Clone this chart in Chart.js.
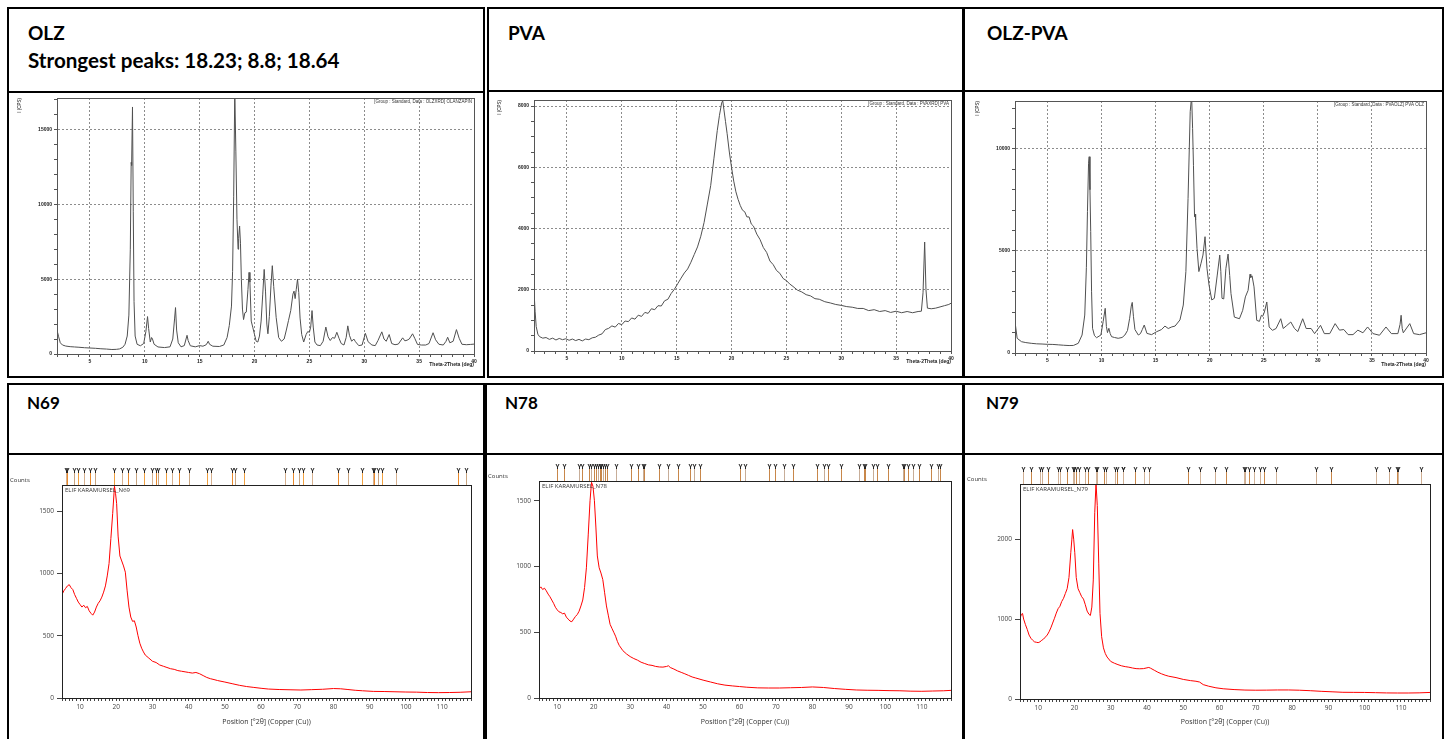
<!DOCTYPE html>
<html>
<head>
<meta charset="utf-8">
<script src="https://cdn.jsdelivr.net/npm/chart.js@4.4.1/dist/chart.umd.min.js"></script>
<style>
  body { margin: 0; background: #fff; width: 1451px; height: 739px; overflow: hidden; position: relative; font-family: Lato, "Open Sans", sans-serif; }
  .box { position: absolute; border: 2px solid #000; box-sizing: border-box; }
  .ttl { position: absolute; font-weight: bold; color: #000; white-space: nowrap; line-height: 1; }
  .big { font-size: 19px; }
  .sub { font-size: 20.6px; }
  .small { font-size: 17px; }
  canvas { position: absolute; }
</style>
</head>
<body>

<!-- top row frames -->
<div class="box" style="left:7px;top:7px;width:478px;height:86px"></div>
<div class="box" style="left:7px;top:91px;width:478px;height:287px"></div>
<div class="box" style="left:487px;top:7px;width:477px;height:85px"></div>
<div class="box" style="left:487px;top:90px;width:477px;height:288px"></div>
<div class="box" style="left:963px;top:7px;width:481px;height:85px"></div>
<div class="box" style="left:963px;top:90px;width:481px;height:288px"></div>

<!-- bottom row frames -->
<div class="box" style="left:7px;top:383px;width:478px;height:72px"></div>
<div class="box" style="left:7px;top:453px;width:478px;height:300px"></div>
<div class="box" style="left:485px;top:383px;width:479px;height:72px"></div>
<div class="box" style="left:485px;top:453px;width:479px;height:300px"></div>
<div class="box" style="left:963px;top:383px;width:481px;height:72px"></div>
<div class="box" style="left:963px;top:453px;width:481px;height:300px"></div>

<div class="ttl big" style="left:28px;top:23px">OLZ</div>
<div class="ttl sub" style="left:28px;top:50px">Strongest peaks: 18.23; 8.8; 18.64</div>
<div class="ttl big" style="left:508px;top:23px">PVA</div>
<div class="ttl big" style="left:987px;top:23px">OLZ-PVA</div>
<div class="ttl small" style="left:27px;top:394px">N69</div>
<div class="ttl small" style="left:505px;top:394px">N78</div>
<div class="ttl small" style="left:986px;top:394px">N79</div>

<canvas id="olz" width="474" height="283" style="left:9px;top:93px"></canvas>
<canvas id="pva" width="472" height="284" style="left:489px;top:92px"></canvas>
<canvas id="olzpva" width="474" height="284" style="left:967px;top:92px"></canvas>
<canvas id="n69" width="474" height="284" style="left:9px;top:455px"></canvas>
<canvas id="n78" width="473" height="284" style="left:487px;top:455px"></canvas>
<canvas id="n79" width="476" height="284" style="left:966px;top:455px"></canvas>

<script>
// ---- OLZ raw powder, 2theta (deg) / intensity (CPS)
const olzAngle = [
  2.05, 2.15, 2.3, 2.5, 2.8, 3.2, 3.6, 4.0, 4.5, 5.0,
  5.5, 6.0, 6.5, 7.0, 7.4, 7.7, 8.0, 8.2, 8.4, 8.55,
  8.68, 8.76, 8.8, 8.88, 8.95, 9.02, 9.12, 9.3, 9.6, 9.9,
  10.1, 10.25, 10.35, 10.5, 10.62, 10.7, 10.85, 11.2, 11.8, 12.3,
  12.55, 12.72, 12.8, 12.9, 13.05, 13.3, 13.6, 13.85, 13.95, 14.15,
  14.6, 15.0, 15.3, 15.6, 15.78, 15.9, 16.2, 16.8, 17.2, 17.5,
  17.7, 17.9, 18.0, 18.1, 18.2, 18.3, 18.4, 18.5, 18.55, 18.64,
  18.72, 18.8, 18.9, 19.0, 19.12, 19.25, 19.4, 19.5, 19.58, 19.7,
  19.85, 20.0, 20.15, 20.3, 20.45, 20.6, 20.75, 20.88, 21.0, 21.12,
  21.22, 21.35, 21.5, 21.62, 21.75, 21.97, 22.2, 22.45, 22.7, 22.9,
  23.1, 23.3, 23.5, 23.6, 23.7, 23.8, 23.92, 24.03, 24.15, 24.3,
  24.48, 24.7, 24.85, 25.0, 25.12, 25.24, 25.35, 25.5, 25.7, 26.0,
  26.25, 26.5, 26.7, 26.9, 27.1, 27.3, 27.5, 27.7, 27.9, 28.15,
  28.35, 28.5, 28.65, 28.85, 29.05, 29.2, 29.5, 29.8, 30.1, 30.35,
  30.7, 31.0, 31.25, 31.6, 31.8, 32.0, 32.27, 32.5, 32.8, 33.1,
  33.5, 33.7, 33.9, 34.1, 34.4, 34.6, 34.85, 35.2, 35.6, 35.9,
  36.27, 36.5, 36.8, 37.2, 37.45, 37.6, 37.8, 38.1, 38.4, 38.65,
  38.9, 39.3, 39.7, 40.0
];
const olzCps = [
  1450, 1150, 750, 600, 530, 490, 470, 450, 420, 400,
  380, 350, 330, 300, 310, 340, 450, 650, 1200, 2600,
  7000, 12800, 12600, 16500, 9500, 3500, 1200, 650, 550, 700,
  1500, 2500, 1700, 800, 1100, 1000, 650, 470, 430, 480,
  1000, 2400, 3100, 1600, 750, 480, 560, 1250, 900, 550,
  480, 560, 520, 620, 850, 650, 520, 500, 600, 1100,
  1900, 3200, 5500, 10500, 17600, 13500, 9000, 7000, 7700, 8550,
  7400, 5000, 3000, 2300, 2750, 2800, 4300, 5450, 4800, 2200,
  1750, 1300, 850, 800, 1200, 2200, 4000, 5650, 4200, 2000,
  1350, 2500, 4600, 5900, 4500, 2450, 1100, 850, 1000, 1600,
  2250, 2900, 4000, 4200, 3700, 4300, 5000, 4100, 2400, 1300,
  800, 1300, 1500, 1450, 1800, 2900, 1800, 800, 600, 560,
  850, 1800, 1150, 900, 1100, 1050, 1450, 1050, 700, 600,
  1100, 1880, 1250, 850, 1000, 820, 560, 600, 1380, 820,
  600, 560, 900, 1480, 1000, 850, 1300, 700, 620, 660,
  1080, 880, 920, 1000, 1350, 1050, 640, 600, 600, 700,
  1420, 950, 650, 600, 850, 1120, 750, 850, 1630, 1050,
  650, 620, 640, 660
];

// ---- PVA
const pvaAngle = [
  2.0, 2.1, 2.2, 2.35, 2.5, 2.8, 3.1, 3.4, 3.7, 4.0,
  4.3, 4.6, 4.9, 5.2, 5.5, 5.8, 6.1, 6.4, 6.7, 7.0,
  7.3, 7.6, 7.9, 8.2, 8.5, 8.8, 9.1, 9.4, 9.7, 10.0,
  10.3, 10.6, 10.9, 11.2, 11.5, 11.8, 12.1, 12.4, 12.7, 13.0,
  13.3, 13.6, 13.9, 14.2, 14.5, 14.8, 15.1, 15.4, 15.7, 16.0,
  16.3, 16.6, 16.9, 17.2, 17.5, 17.8, 18.1, 18.4, 18.7, 18.9,
  19.1, 19.2, 19.3, 19.45, 19.6, 19.8, 20.0, 20.2, 20.4, 20.6,
  20.8, 21.0, 21.2, 21.4, 21.6, 21.8, 22.0, 22.3, 22.6, 22.9,
  23.2, 23.5, 23.8, 24.1, 24.4, 24.7, 25.0, 25.3, 25.6, 26.0,
  26.4, 26.8, 27.2, 27.6, 28.0, 28.5, 29.0, 29.5, 30.0, 30.5,
  31.0, 31.5, 32.0, 32.5, 33.0, 33.5, 34.0, 34.5, 35.0, 35.5,
  36.0, 36.5, 37.0, 37.3, 37.45, 37.6, 37.72, 37.85, 38.2, 38.6,
  39.0, 39.4, 39.8, 40.0
];
const pvaCps = [
  1950, 1300, 800, 550, 470, 420, 440, 380, 420, 360,
  410, 370, 400, 350, 390, 340, 380, 330, 390, 370,
  430, 450, 520, 560, 700, 740, 820, 780, 900, 860,
  980, 960, 1080, 1040, 1170, 1130, 1260, 1230, 1380, 1350,
  1480, 1470, 1640, 1690, 1880, 2020, 2200, 2380, 2550, 2680,
  2900, 3150, 3400, 3750, 4200, 4800, 5400, 6300, 7200, 7700,
  8100, 8180, 7900, 7500, 7100, 6500, 6000, 5550, 5200, 4950,
  4750, 4600, 4550, 4380, 4380, 4150, 4080, 3820, 3640, 3380,
  3220, 2940, 2820, 2630, 2540, 2370, 2300, 2190, 2110, 1990,
  1930, 1840, 1800, 1710, 1690, 1610, 1570, 1520, 1490, 1450,
  1430, 1390, 1390, 1320, 1350, 1290, 1320, 1260, 1300, 1250,
  1290, 1250, 1290, 1300, 1900, 3560, 2000, 1400, 1380, 1400,
  1440, 1480, 1520, 1560
];

// ---- OLZ-PVA mixture
const olzPvaAngle = [
  2.04, 2.2, 2.6, 3.0, 3.5, 4.0, 4.5, 5.0, 5.5, 6.0,
  6.5, 7.0, 7.4, 7.85, 8.2, 8.45, 8.6, 8.7, 8.8, 8.86,
  8.93, 9.0, 9.08, 9.17, 9.35, 9.54, 9.94, 10.15, 10.34, 10.45,
  10.55, 10.68, 10.8, 10.93, 11.2, 11.54, 11.9, 12.16, 12.4, 12.6,
  12.75, 12.84, 12.95, 13.09, 13.4, 13.6, 13.77, 13.95, 14.2, 14.63,
  15.1, 15.55, 15.86, 16.17, 16.5, 16.8, 17.25, 17.56, 17.8, 18.0,
  18.2, 18.33, 18.42, 18.5, 18.6, 18.66, 18.7, 18.83, 19.0, 19.2,
  19.38, 19.57, 19.75, 19.94, 20.19, 20.43, 20.7, 20.93, 21.03, 21.14,
  21.3, 21.5, 21.7, 21.85, 21.97, 22.28, 22.75, 23.05, 23.3, 23.55,
  23.73, 23.8, 23.92, 24.1, 24.35, 24.6, 24.78, 24.9, 25.06, 25.28,
  25.5, 25.8, 26.14, 26.57, 26.8, 27.13, 27.5, 27.84, 28.15, 28.6,
  28.92, 29.38, 29.7, 30.25, 30.6, 31.1, 31.6, 32.0, 32.4, 32.8,
  33.25, 33.7, 34.17, 34.6, 35.1, 35.7, 36.3, 36.8, 37.4, 37.6,
  37.7, 37.8, 37.9, 38.5, 38.86, 39.4, 40.0
];
const olzPvaCps = [
  1370, 720, 555, 510, 475, 450, 440, 425, 420, 400,
  380, 365, 370, 475, 880, 1860, 4200, 6930, 9300, 9620,
  8000, 5950, 3000, 1210, 850, 750, 880, 1540, 2190, 1300,
  1000, 1210, 950, 800, 760, 720, 760, 880, 1100, 1700,
  2300, 2480, 1800, 1150, 880, 950, 1150, 1370, 960, 900,
  1045, 1150, 1320, 1200, 1280, 1320, 1620, 2350, 3990, 7580,
  11830, 12600, 11000, 9200, 6680, 6800, 6520, 5130, 3990, 4400,
  4800, 5700, 4150, 3330, 2600, 2680, 3820, 4800, 4000, 2680,
  2650, 4150, 4850, 3800, 2910, 1760, 1680, 2090, 2750, 3070,
  3860, 3700, 3780, 3240, 1600, 1550, 1850, 1800, 2010, 2500,
  1275, 1110, 1200, 1680, 1200, 1350, 1520, 1200, 1050, 1680,
  1200, 1200, 950, 1355, 950, 950, 1440, 1120, 1150, 900,
  900, 1120, 990, 1275, 950, 870, 1275, 950, 950, 1400,
  1850, 1200, 990, 1440, 950, 900, 990
];

// ---- nanofibre samples, position (deg 2theta, Cu) / counts
const n69Angle = [
  5, 5.5, 6, 6.5, 7, 7.5, 8, 8.5, 9, 9.5,
  10, 10.5, 11, 11.5, 12, 12.5, 13, 13.5, 14, 14.5,
  15, 15.5, 16, 16.5, 17, 17.5, 18, 18.5, 19, 19.5,
  19.8, 20.1, 20.5, 21, 21.5, 22, 22.5, 23, 23.5, 24,
  24.5, 25, 25.5, 26, 26.5, 27, 27.5, 28, 29, 30,
  31, 32, 33, 34, 35, 36, 37, 38, 39, 40,
  41, 42, 43, 44, 45, 46, 47, 48, 50, 52,
  54, 56, 58, 60, 62, 65, 68, 71, 74, 77,
  80, 82, 84, 86, 88, 91, 94, 97, 100, 103,
  106, 109, 112, 115, 118
];
const n69Counts = [
  830, 860, 880, 900, 910, 885, 870, 830, 800, 770,
  750, 730, 745, 725, 735, 700, 680, 665, 690, 730,
  760, 780, 810, 850, 900, 980, 1080, 1280, 1480, 1700,
  1640, 1560, 1300, 1140, 1100, 1060, 1010, 860, 730, 650,
  615, 620, 570, 500, 440, 400, 370, 345, 320, 295,
  285, 265, 255, 245, 235, 230, 220, 215, 210, 205,
  200, 205, 195, 180, 165, 155, 148, 140, 128, 115,
  102, 92, 85, 78, 72, 68, 66, 64, 67, 70,
  76, 74, 68, 62, 58, 53, 52, 50, 48, 47,
  44, 43, 44, 46, 50
];
const n78Angle = [
  5, 5.5, 6, 6.5, 7, 7.5, 8, 8.5, 9, 9.5,
  10, 10.5, 11, 11.5, 12, 12.5, 13, 13.5, 14, 14.5,
  15, 15.5, 16, 16.5, 17, 17.5, 18, 18.5, 19, 19.4,
  19.8, 20.2, 20.6, 21, 21.5, 22, 22.5, 23, 23.5, 24,
  24.5, 25, 25.5, 26, 26.5, 27, 27.5, 28, 29, 30,
  31, 32, 33, 34, 35, 36, 37, 38, 39, 40,
  40.5, 41, 42, 43, 44, 45, 46, 47, 48, 50,
  52, 54, 56, 58, 60, 62, 65, 68, 71, 74,
  77, 80, 83, 86, 89, 92, 95, 98, 101, 104,
  107, 110, 113, 116, 118
];
const n78Counts = [
  830, 845, 825, 835, 815, 790, 770, 745, 720, 690,
  670, 655, 650, 640, 645, 615, 600, 585, 580, 600,
  620, 635, 660, 700, 745, 840, 990, 1240, 1500, 1640,
  1610, 1500, 1300, 1080, 990, 950, 900, 800, 700, 630,
  560, 530, 500, 470, 430, 400, 380, 360, 335, 315,
  300, 288, 272, 262, 252, 248, 240, 236, 235, 240,
  245, 232, 220, 206, 195, 184, 172, 160, 152, 136,
  122, 108, 98, 92, 87, 82, 77, 76, 76, 78,
  80, 84, 80, 72, 66, 61, 59, 58, 56, 55,
  52, 51, 53, 55, 58
];
const n79Angle = [
  5, 5.4, 5.7, 6, 6.5, 7, 7.5, 8, 8.5, 9,
  9.5, 10, 10.5, 11, 11.5, 12, 12.5, 13, 13.5, 14,
  14.5, 15, 15.5, 16, 16.5, 17, 17.5, 18, 18.5, 19,
  19.3, 19.5, 19.8, 20.1, 20.5, 21, 21.5, 22, 22.5, 23,
  23.5, 24, 24.4, 24.8, 25.2, 25.6, 25.95, 26.3, 26.7, 27.05,
  27.5, 28, 28.5, 29, 30, 31, 32, 33, 34, 35,
  36, 37, 38, 39, 40, 40.5, 41, 42, 43, 44,
  45, 46, 48, 50, 52, 53.5, 54.5, 55.5, 57, 59,
  61, 64, 67, 70, 73, 76, 79, 82, 85, 88,
  91, 94, 97, 100, 103, 106, 109, 112, 115, 118
];
const n79Counts = [
  1010, 1060, 1070, 1000, 930, 870, 800, 760, 735, 715,
  710, 705, 715, 735, 750, 775, 800, 840, 890, 950,
  1010, 1075, 1130, 1160, 1220, 1260, 1320, 1380, 1520, 1830,
  2000, 2120, 2000, 1830, 1520, 1380, 1330, 1280, 1250, 1180,
  1100, 1060, 1045, 1150, 1490, 2330, 2700, 2420, 1700, 1070,
  780, 640, 570, 525, 470, 448, 430, 415, 405, 398,
  388, 380, 378, 380, 390, 395, 385, 360, 335, 315,
  298, 285, 268, 245, 230, 222, 212, 180, 160, 140,
  128, 118, 112, 110, 111, 113, 113, 110, 104, 96,
  90, 84, 83, 82, 79, 76, 75, 75, 77, 82
];

// reference pattern line positions (deg 2theta) shown above each scan
const n69Refs = [6.05, 6.5, 8.4, 9.5, 11.2, 12.6, 14.1, 19.5, 21.5, 23.2, 25.5, 27.7, 29.9, 30.9, 31.4, 33.6, 35.5, 37.4, 40.0, 45.1, 46.2, 51.9, 52.8, 55.3, 66.6, 68.7, 70.5, 71.6, 74.2, 81.2, 84.1, 87.8, 91.0, 91.2, 92.2, 93.3, 97.3, 114.4, 116.5];
const n78Refs = [9.8, 11.8, 16.0, 16.7, 18.6, 19.3, 20.0, 20.6, 21.2, 21.6, 22.1, 22.6, 23.2, 23.7, 26.0, 30.3, 32.1, 33.6, 33.9, 37.8, 40.3, 43.0, 46.3, 47.4, 49.2, 60.2, 61.6, 68.2, 69.6, 72.2, 74.6, 81.2, 83.1, 84.3, 87.7, 92.7, 94.1, 94.5, 96.6, 97.8, 100.6, 104.7, 105.1, 106.2, 107.7, 109.3, 112.4, 114.3, 114.9];
const n79Refs = [5.8, 7.9, 10.6, 11.0, 12.8, 15.6, 16.1, 17.9, 19.5, 19.8, 20.3, 21.3, 23.0, 23.8, 25.9, 26.1, 28.1, 28.7, 31.1, 31.6, 33.3, 33.5, 36.8, 39.3, 40.5, 51.2, 54.6, 58.8, 61.8, 66.7, 67.0, 68.2, 69.5, 71.2, 72.3, 75.6, 86.6, 90.6, 103.0, 106.6, 108.9, 109.1, 115.5];

function pairs(xs, ys) {
  return xs.map((x, i) => ({ x: x, y: ys[i] }));
}

function steps(from, to, step) {
  const out = [];
  for (let v = from; v <= to + 1e-9; v += step) out.push({ value: Math.round(v * 1000) / 1000 });
  return out;
}

// closed plot frame + small captions
const framePlugin = {
  id: 'frame',
  afterDraw(chart, args, o) {
    const { ctx, chartArea: a } = chart;
    ctx.save();
    ctx.strokeStyle = o.color;
    ctx.lineWidth = 1;
    ctx.strokeRect(Math.round(a.left) + 0.5, Math.round(a.top) + 0.5, Math.round(a.right - a.left), Math.round(a.bottom - a.top));
    if (o.note) {
      ctx.font = o.noteFont;
      ctx.fillStyle = o.noteColor;
      ctx.textBaseline = 'top';
      ctx.textAlign = o.noteAlign;
      const x = o.noteAlign === 'right' ? a.right - 2 : a.left + 3;
      ctx.fillText(o.note, x, a.top + 2);
    }
    if (o.corner) {
      ctx.font = o.noteFont;
      ctx.fillStyle = o.noteColor;
      ctx.textAlign = 'left';
      ctx.textBaseline = 'bottom';
      ctx.fillText(o.corner, 1, a.top - 2);
    }
    ctx.restore();
  }
};

// stick markers for the matched reference peaks
const refPlugin = {
  id: 'refs',
  afterDraw(chart, args, o) {
    if (!o.positions) return;
    const { ctx, chartArea: a } = chart;
    const xs = chart.scales.x;
    ctx.save();
    o.positions.forEach((p, i) => {
      const px = Math.round(xs.getPixelForValue(p)) + 0.5;
      const y0 = a.top - o.length;
      ctx.strokeStyle = o.colors[i % o.colors.length];
      ctx.lineWidth = 1;
      ctx.beginPath();
      ctx.moveTo(px, y0 + 4);
      ctx.lineTo(px, a.top);
      ctx.stroke();
      ctx.strokeStyle = '#222';
      ctx.beginPath();
      ctx.moveTo(px - 1.5, y0);
      ctx.lineTo(px, y0 + 3);
      ctx.lineTo(px + 1.5, y0);
      ctx.moveTo(px, y0 + 3);
      ctx.lineTo(px, y0 + 5);
      ctx.stroke();
    });
    ctx.restore();
  }
};

const tinyFont = { family: 'Liberation Sans', size: 5, weight: 'bold' };

function makeScan(id, xs, ys, cfg) {
  return new Chart(document.getElementById(id), {
    type: 'line',
    data: { datasets: [{ data: pairs(xs, ys), borderColor: '#505050', borderWidth: 1, pointRadius: 0, tension: 0 }] },
    options: {
      responsive: false,
      animation: false,
      events: [],
      layout: { padding: { left: 0, top: cfg.top, right: cfg.right, bottom: 0 } },
      plugins: {
        legend: { display: false },
        tooltip: { enabled: false },
        frame: { color: '#555', note: cfg.note, noteAlign: 'right', noteFont: '4.5px "Liberation Sans"', noteColor: '#333' }
      },
      scales: {
        x: {
          type: 'linear', min: 2, max: 40,
          afterBuildTicks: s => { s.ticks = steps(2, 40, 1); },
          afterFit: s => { s.height = cfg.xh; },
          ticks: { autoSkip: false, maxRotation: 0, padding: 2, font: tinyFont, color: '#222', callback: v => (v % 5 === 0 ? String(v) : '') },
          grid: { color: c => (c.tick && c.tick.value % 5 === 0 ? '#8c8c8c' : 'rgba(0,0,0,0)'), tickColor: '#555', tickLength: 3, tickBorderDash: [] },
          border: { color: '#555', dash: [2, 2] },
          title: { display: true, text: 'Theta-2Theta (deg)', align: 'end', color: '#222', font: tinyFont, padding: { top: 0, bottom: cfg.tb } }
        },
        y: {
          min: 0, max: cfg.ymax,
          afterBuildTicks: s => { s.ticks = steps(0, cfg.ymax, cfg.minor); },
          afterFit: s => { s.width = cfg.yw; },
          ticks: { autoSkip: false, padding: 2, font: tinyFont, color: '#222', callback: v => (v % cfg.major === 0 ? String(v) : '') },
          grid: { color: c => (c.tick && c.tick.value % cfg.major === 0 ? '#8c8c8c' : 'rgba(0,0,0,0)'), tickColor: '#555', tickLength: 3, tickBorderDash: [] },
          border: { color: '#555', dash: [2, 2] },
          title: { display: true, text: 'I (CPS)', align: 'end', color: '#222', font: { family: 'Liberation Sans', size: 4.5 }, padding: { top: 8, bottom: 0 } }
        }
      }
    },
    plugins: [framePlugin]
  });
}

const smallFont = { family: 'Open Sans', size: 6.5 };

function makeFibre(id, xs, ys, refs, cfg) {
  return new Chart(document.getElementById(id), {
    type: 'line',
    data: { datasets: [{ data: pairs(xs, ys), borderColor: '#ff0000', borderWidth: 1, pointRadius: 0, tension: 0 }] },
    options: {
      responsive: false,
      animation: false,
      events: [],
      layout: { padding: { left: 0, top: cfg.top, right: cfg.right, bottom: 0 } },
      plugins: {
        legend: { display: false },
        tooltip: { enabled: false },
        frame: { color: '#222', note: cfg.note, noteAlign: 'left', noteFont: '6px "Open Sans"', noteColor: '#333', corner: 'Counts' },
        refs: { positions: refs, length: 17, colors: cfg.refColors }
      },
      scales: {
        x: {
          type: 'linear', min: 5, max: 118,
          afterBuildTicks: s => { s.ticks = steps(5, 118, 1); },
          afterFit: s => { s.height = cfg.xh; },
          ticks: { autoSkip: false, maxRotation: 0, padding: 2, font: smallFont, color: '#444', callback: v => (v % 10 === 0 ? String(v) : '') },
          grid: { drawOnChartArea: false, tickColor: '#444', tickLength: 3 },
          border: { color: '#222' },
          title: { display: true, text: 'Position [°2θ] (Copper (Cu))', color: '#333', font: { family: 'Open Sans', size: 7 }, padding: { top: 0, bottom: 13 } }
        },
        y: {
          min: 0, max: cfg.ymax,
          afterBuildTicks: s => { s.ticks = cfg.yticks.map(v => ({ value: v })); },
          afterFit: s => { s.width = cfg.yw; },
          ticks: { autoSkip: false, padding: 3, font: smallFont, color: '#444', callback: v => String(v) },
          grid: { drawOnChartArea: false, tickColor: '#444', tickLength: 5 },
          border: { color: '#222' }
        }
      }
    },
    plugins: [framePlugin, refPlugin]
  });
}

makeScan('olz', olzAngle, olzCps, { top: 4, right: 9, xh: 22, yw: 48, tb: 8, ymax: 17100, major: 5000, minor: 1000, note: '[Group : Standard, Data : OLZXRD] OLANZAPIN' });
makeScan('pva', pvaAngle, pvaCps, { top: 8, right: 10, xh: 25, yw: 45, tb: 11, ymax: 8200, major: 2000, minor: 500, note: '[Group : Standard, Data : PVAXRD] PVA' });
makeScan('olzpva', olzPvaAngle, olzPvaCps, { top: 9, right: 15, xh: 23, yw: 48, tb: 8, ymax: 12350, major: 5000, minor: 1000, note: '[Group : Standard, Data : PVAOLZ] PVA OLZ' });

makeFibre('n69', n69Angle, n69Counts, n69Refs, { top: 30, right: 12, xh: 41, yw: 53, ymax: 1710, yticks: [0, 500, 1000, 1500], note: 'ELIF KARAMURSEL_N69', refColors: ['#d6b08e', '#e8892c', '#c9a47f', '#f0a040'] });
makeFibre('n78', n78Angle, n78Counts, n78Refs, { top: 26, right: 9, xh: 41, yw: 52, ymax: 1650, yticks: [0, 500, 1000, 1500], note: 'ELIF KARAMURSEL_N78', refColors: ['#c8874a', '#c8874a', '#c7ad98'] });
makeFibre('n79', n79Angle, n79Counts, n79Refs, { top: 29, right: 12, xh: 40, yw: 54, ymax: 2690, yticks: [0, 1000, 2000], note: 'ELIF KARAMURSEL_N79', refColors: ['#cfae92', '#c8874a', '#d2b49a'] });
</script>
</body>
</html>
